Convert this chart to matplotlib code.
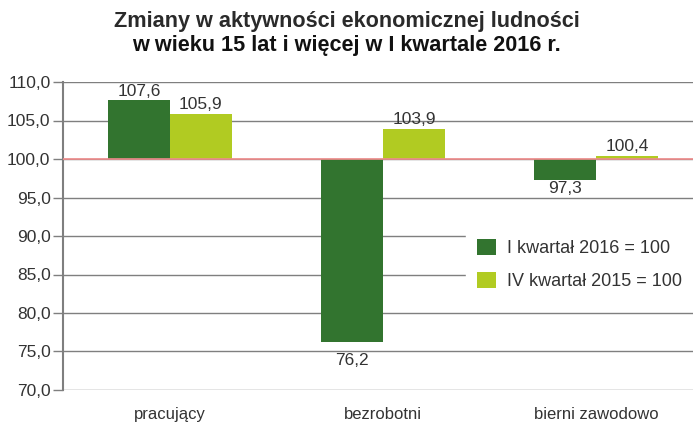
import numpy as np
import matplotlib.pyplot as plt

plt.rcParams['font.family'] = ['Liberation Sans', 'DejaVu Sans']

categories = ["pracujący", "bezrobotni", "bierni zawodowo"]
q1_2016 = [107.6, 76.2, 97.3]
q4_2015 = [105.9, 103.9, 100.4]
series_names = ["I kwartał 2016 = 100", "IV kwartał 2015 = 100"]
yticks = [70, 75, 80, 85, 90, 95, 100, 105, 110]

dark = '#32742f'
light = '#b1cb22'
grid_col = '#7f7f7f'
txt_col = '#333333'

fig = plt.figure(figsize=(6.93, 4.28), dpi=100)
ax = fig.add_axes([63 / 693, 1 - 390 / 428, 630 / 693, 308 / 428])

x = np.arange(len(categories))
w = 0.29
base = 100
b1 = ax.bar(x - w / 2, np.array(q1_2016) - base, w, bottom=base, color=dark,
            label=series_names[0], zorder=3)
b2 = ax.bar(x + w / 2, np.array(q4_2015) - base, w, bottom=base, color=light,
            label=series_names[1], zorder=3)

def fmt(v):
    return f"{v:.1f}".replace('.', ',')

# label gaps below negative bars differ in the original
below_gap = {76.2: 1.4, 97.3: 0.2}
for bars, vals in ((b1, q1_2016), (b2, q4_2015)):
    for rect, v in zip(bars, vals):
        cx = rect.get_x() + rect.get_width() / 2
        if v >= base:
            ax.text(cx, v + 0.25, fmt(v), ha='center', va='bottom', fontsize=12.5, color=txt_col)
        else:
            ax.text(cx, v - below_gap.get(v, 0.4), fmt(v), ha='center', va='top',
                    fontsize=12.5, color=txt_col)

ax.axhline(base, color='#f08c8c', lw=1.2, zorder=4)

ax.set_ylim(70, 110)
ax.set_xlim(-0.502, 2.455)
ax.set_yticks(yticks)
ax.set_yticklabels([fmt(v) for v in yticks], fontsize=12.5, color=txt_col)
ax.set_xticks(x)
ax.set_xticklabels(categories, fontsize=12, color=txt_col)
ax.tick_params(axis='x', length=0, pad=12)
ax.tick_params(axis='y', length=7, width=1, color=grid_col, pad=2)
ax.yaxis.grid(True, color=grid_col, lw=1, zorder=0)
for s in ['top', 'right', 'bottom']:
    ax.spines[s].set_visible(False)
ax.spines['left'].set_color(grid_col)
ax.spines['left'].set_linewidth(1.5)

leg = ax.legend(loc='upper left', bbox_to_anchor=(0.625, 0.555), frameon=True,
                fontsize=13, handlelength=1.1, handleheight=1.0, borderpad=0.6,
                labelspacing=0.8, handletextpad=0.6, fancybox=False, framealpha=1)
leg.get_frame().set_edgecolor('white')
for t in leg.get_texts():
    t.set_color(txt_col)

fig.text(0.5, 1 - 21 / 428, "Zmiany w aktywności ekonomicznej ludności",
         ha='center', va='center', fontsize=15.6, fontweight='bold', color='#2a2a2a')
fig.text(0.5, 1 - 46 / 428, "w wieku 15 lat i więcej w I kwartale 2016 r.",
         ha='center', va='center', fontsize=15.6, fontweight='bold', color='#111111')

fig.savefig('out.png', dpi=100)
